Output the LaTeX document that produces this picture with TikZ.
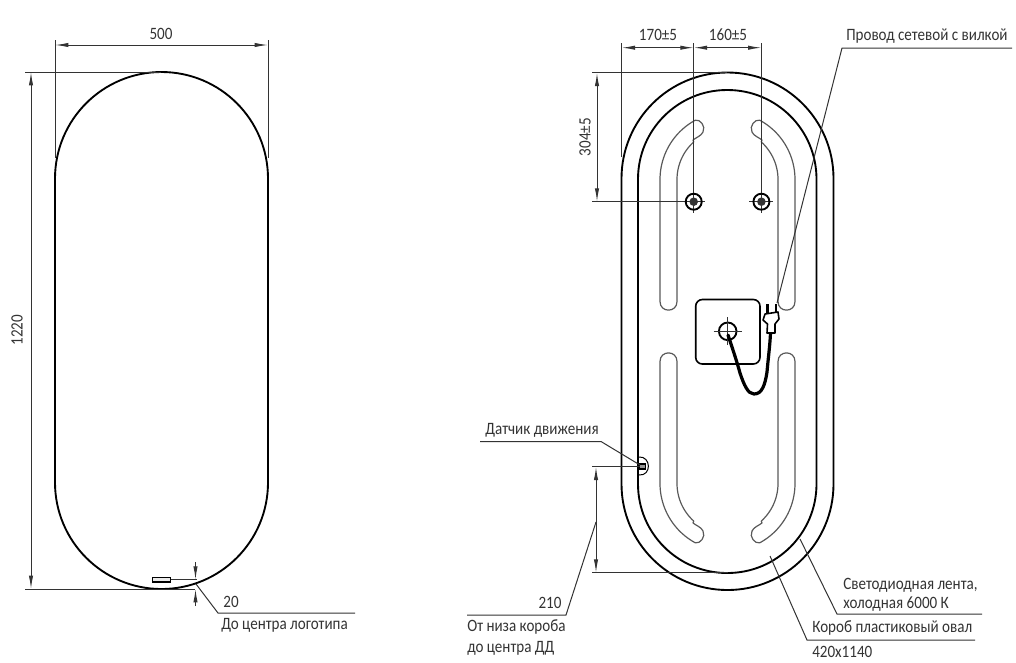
\documentclass[tikz,border=0pt]{standalone}
\usepackage{fontspec}
\setmainfont[FakeStretch=0.87]{Carlito}
\usetikzlibrary{arrows.meta}
\newcommand\drawslot{%
  \draw[slot] (660,300) -- (660,179.5)
    -- plot[domain=180:118.5,samples=24] ({727.5+67.5*cos(\x)},{179.5-67.5*sin(\x)})
    .. controls (700,119) and (706,126) .. (703,132)
    .. controls (701,136) and (697,137) .. (693,140)
    -- plot[domain=132:180,samples=24] ({727.5+50.5*cos(\x)},{179.5-50.5*sin(\x)})
    -- (677,301.5) .. controls (677,313) and (660,313) .. (660,301.5) -- cycle;}
\tikzset{
  x=0.75pt,y=-0.75pt,
  outline/.style={draw=black,line width=1.4pt},
  slot/.style={draw=black!65,line width=0.9pt,line join=round},
  thin line/.style={draw=black!80,line width=0.75pt},
  dimline/.style={thin line,{Latex[length=10pt,width=3.2pt]}-{Latex[length=10pt,width=3.2pt]}},
  onearrow/.style={thin line,-{Latex[length=10pt,width=3.2pt]}},
  lbl/.style={inner sep=0pt,text=black!80,font=\fontsize{13}{15}\selectfont},
}
\begin{document}
\begin{tikzpicture}
\useasboundingbox (0,0) rectangle (1016,662);
% left view
\draw[outline,rounded corners=79.9pt] (55,72) rectangle (268,589);
\draw[thin line] (55,40) -- (55,158);
\draw[thin line] (268,40) -- (268,158);
\draw[dimline] (55,45) -- (268,45);
\draw[thin line] (25,72) -- (161,72);
\draw[thin line] (25,589) -- (195,589);
\draw[dimline] (31,72) -- (31,589);
\node[lbl] (d500) at (161,34) {500};
\node[lbl,rotate=90] (d1220) at (17,330) {1220};
\draw[draw=black,line width=0.9pt,fill=black!8] (152.5,577.5) rectangle (170.5,582);
\draw[thin line] (170.5,579.7) -- (197,579.7);
\draw[onearrow] (195.5,562) -- (195.5,579.7);
\draw[onearrow] (195.5,606) -- (195.5,589);
\coordinate (l20a) at (196,584);
\coordinate (l20b) at (218,613);
\coordinate (l20c) at (355,613);
\draw[thin line] (l20a) -- (l20b) -- (l20c);
\node[lbl] (d20) at (231,602) {20};
\node[lbl,anchor=west] (tlogo) at (221,625) {До центра логотипа};
% right view
\draw[outline,rounded corners=79.5pt] (621.5,72.5) rectangle (833.5,590);
\draw[outline,rounded corners=66.8pt] (638,90) rectangle (816.5,573);
\drawslot
\begin{scope}[shift={(1455,0)},xscale=-1]\drawslot\end{scope}
\begin{scope}[shift={(0,663)},yscale=-1]\drawslot\end{scope}
\begin{scope}[shift={(1455,663)},xscale=-1,yscale=-1]\drawslot\end{scope}
% top dimensions
\draw[thin line] (621.7,43) -- (621.7,157);
\draw[thin line] (693.7,43) -- (693.7,213);
\draw[thin line] (761.4,43) -- (761.4,213);
\draw[dimline] (621.7,47.7) -- (693.7,47.7);
\draw[dimline] (693.7,47.7) -- (761.4,47.7);
\node[lbl,anchor=base] (d170) at (658,40) {170±5};
\node[lbl,anchor=base] (d160) at (728,40) {160±5};
\draw[thin line] (592,72.7) -- (727,72.7);
\draw[thin line] (592,201.7) -- (705,201.7);
\draw[thin line] (749,201.7) -- (773,201.7);
\draw[dimline] (597,72.7) -- (597,201.7);
\node[lbl,rotate=90] (d304) at (585,137) {304±5};
% holes
\foreach \hx in {693.7,761.4}{
  \draw[draw=black,line width=1.4pt] (\hx,201.7) circle[radius=6pt];
  \fill[black!80] (\hx,201.7) circle[radius=3.2pt];
}
% box and socket
\draw[draw=black,line width=1.2pt,rounded corners=5pt] (695.7,299.5) rectangle (760,364);
\draw[draw=black,line width=1.4pt] (727.7,331.3) circle[radius=6.6pt];
\draw[thin line] (713.5,331.3) -- (742,331.3);
\draw[thin line] (727.7,317) -- (727.7,345);
% cable
\draw[draw=black,line width=2.4pt,line cap=round]
  (728,335) .. controls (733,350) and (737,362) .. (740,373)
  .. controls (744,385) and (748,394) .. (754,394)
  .. controls (762,394) and (765,385) .. (767,372)
  .. controls (768,360) and (770,345) .. (770.5,333);
% plug
\draw[draw=black,line width=1.2pt,line join=round,fill=white]
  (767,333) -- (767.5,324) -- (763,320) -- (765,314) -- (778,312) -- (779,319) -- (775,324) -- (775,333) -- cycle;
\draw[draw=black,line width=1.8pt] (767.5,314) -- (767.5,304);
\draw[draw=black,line width=1.8pt] (775.8,312) -- (775.8,304);
% leader plug
\coordinate (p1) at (777,303);
\coordinate (p2) at (842,48);
\coordinate (p3) at (1012,48);
\draw[thin line] (p1) -- (p2) -- (p3);
\node[lbl,anchor=west] (tplug) at (846,36) {Провод сетевой с вилкой};
% sensor
\draw[draw=black,line width=0.75pt] (639,457) .. controls (651,456) and (652,476) .. (639,475);
\draw[draw=black,line width=1pt,fill=black!40] (639.5,464) rectangle (645.5,469);
\coordinate (s1) at (640,465);
\coordinate (s2) at (601,441.5);
\coordinate (s3) at (480,441.5);
\draw[thin line] (s1) -- (s2) -- (s3);
\node[lbl] (tsens) at (542,430) {Датчик движения};
% dim 210
\draw[thin line] (592,466.7) -- (640,466.7);
\draw[thin line] (592,572.7) -- (728,572.7);
\draw[dimline] (596,466.7) -- (596,572.7);
\coordinate (m1) at (596,522);
\coordinate (m2) at (566,615);
\coordinate (m3) at (467,615);
\draw[thin line] (m1) -- (m2) -- (m3);
\node[lbl] (d210) at (550,603) {210};
\node[lbl,anchor=west] (t210a) at (467,627) {От низа короба};
\node[lbl,anchor=west] (t210b) at (467,648) {до центра ДД};
% lower right leaders
\coordinate (a1) at (800,539);
\coordinate (a2) at (837,614);
\coordinate (a3) at (982,614);
\draw[thin line] (a1) -- (a2) -- (a3);
\node[lbl,anchor=west] (tled1) at (843,585) {Светодиодная лента,};
\node[lbl,anchor=west] (tled2) at (843,604) {холодная 6000 К};
\coordinate (b1) at (770,556);
\coordinate (b2) at (807,640);
\coordinate (b3) at (975,640);
\draw[thin line] (b1) -- (b2) -- (b3);
\node[lbl,anchor=west] (tbox1) at (812,628) {Короб пластиковый овал};
\node[lbl,anchor=west] (tbox2) at (812,652) {420х1140};
\end{tikzpicture}
\end{document}
